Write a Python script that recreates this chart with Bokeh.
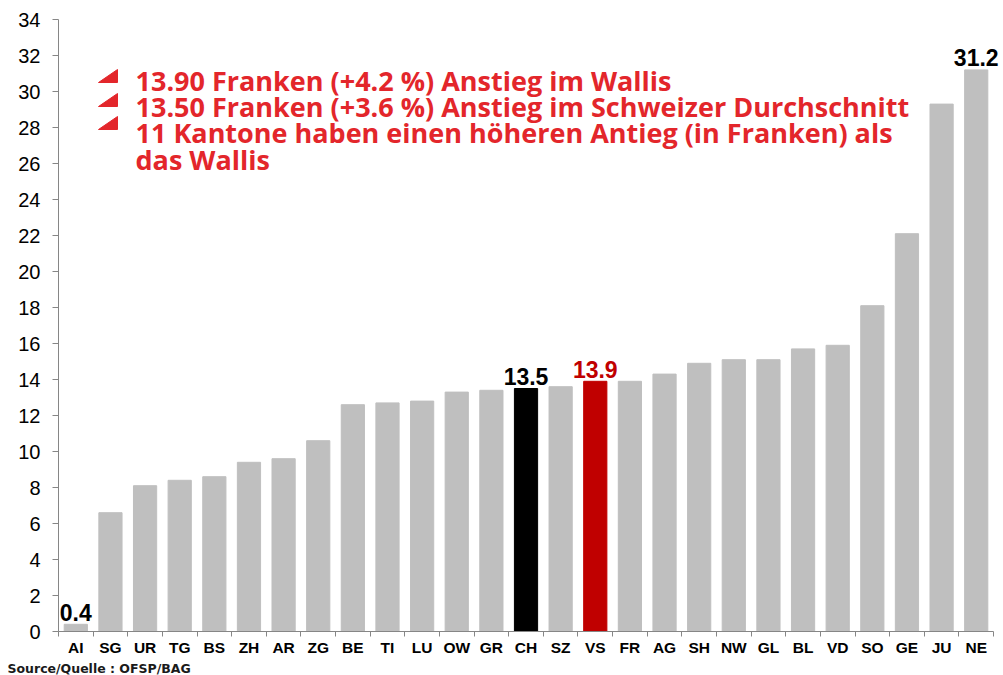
from bokeh.plotting import figure
from bokeh.models import ColumnDataSource, FixedTicker, Label, PolyAnnotation, Range1d, Title
from bokeh.core.properties import value
from bokeh.embed import file_html
from bokeh.resources import INLINE

cantons = ["AI", "SG", "UR", "TG", "BS", "ZH", "AR", "ZG", "BE", "TI", "LU", "OW", "GR",
           "CH", "SZ", "VS", "FR", "AG", "SH", "NW", "GL", "BL", "VD", "SO", "GE", "JU", "NE"]
increase = [0.4, 6.6, 8.1, 8.4, 8.6, 9.4, 9.6, 10.6, 12.6, 12.7, 12.8, 13.3, 13.4,
            13.5, 13.6, 13.9, 13.9, 14.3, 14.9, 15.1, 15.1, 15.7, 15.9, 18.1, 22.1, 29.3, 31.2]
highlight = {"CH": "#000000", "VS": "#c00000"}
labelled = {"AI": "#000000", "CH": "#000000", "VS": "#c00000", "NE": "#000000"}
y_ticks = list(range(0, 35, 2))
notes = ["13.90 Franken (+4.2 %) Anstieg im Wallis",
         "13.50 Franken (+3.6 %) Anstieg im Schweizer Durchschnitt",
         "11 Kantone haben einen höheren Antieg (in Franken) als",
         "das Wallis"]
source_text = "Source/Quelle : OFSP/BAG"

FONT = "Liberation Sans"
n = len(cantons)
centers = [i + 0.5 for i in range(n)]
colors = [highlight.get(c, "#bfbfbf") for c in cantons]

p = figure(width=1001, height=675, output_backend="svg", toolbar_location=None,
           x_range=Range1d(0, n + 0.23), y_range=Range1d(0, 34),
           min_border_left=58, min_border_right=0, min_border_top=19, min_border_bottom=44)
p.outline_line_color = None
p.xgrid.grid_line_color = None
p.ygrid.grid_line_color = None
p.background_fill_color = "white"
p.border_fill_color = "white"

src = ColumnDataSource(dict(x=centers, top=increase, color=colors, name=cantons))
p.vbar(x="x", top="top", bottom=0, width=0.67, color="color", source=src)

# value labels
lab_x = [centers[i] for i, c in enumerate(cantons) if c in labelled]
lab_y = [increase[i] for i, c in enumerate(cantons) if c in labelled]
lab_t = [f"{increase[i]:.1f}" for i, c in enumerate(cantons) if c in labelled]
lab_c = [labelled[c] for c in cantons if c in labelled]
lsrc = ColumnDataSource(dict(x=lab_x, y=lab_y, t=lab_t, c=lab_c))
p.text(x="x", y="y", text="t", text_color="c", source=lsrc, text_align="center",
       text_baseline="alphabetic", y_offset=-12, text_font=value(FONT),
       text_font_size="23px", text_font_style="bold")

# axes
ax_color = "#868686"
xa = p.xaxis[0]
xa.bounds = (0, n)
xa.ticker = FixedTicker(ticks=centers, minor_ticks=list(range(n + 1)))
xa.major_label_overrides = {c: name for c, name in zip(centers, cantons)}
xa.major_tick_line_color = None
xa.minor_tick_line_color = ax_color
xa.minor_tick_out = 5
xa.minor_tick_in = 0
xa.axis_line_color = ax_color
xa.major_label_text_font = FONT
xa.major_label_text_font_style = "bold"
xa.major_label_text_font_size = "15.5px"
xa.major_label_text_color = "#000000"
xa.major_label_standoff = 1

ya = p.yaxis[0]
ya.ticker = FixedTicker(ticks=y_ticks)
ya.minor_tick_line_color = None
ya.major_tick_line_color = ax_color
ya.major_tick_out = 6
ya.major_tick_in = 0
ya.axis_line_color = ax_color
ya.major_label_text_font = FONT
ya.major_label_text_font_size = "20px"
ya.major_label_text_color = "#000000"
ya.major_label_standoff = 12

# annotation text
red = "#e3262b"
baselines = [551, 525, 499, 472]
for t, b in zip(notes, baselines):
    p.add_layout(Label(x=77, y=b, x_units="screen", y_units="screen", text=t,
                       text_font="Open Sans", text_font_style="bold", text_font_size="27px",
                       text_color=red, text_baseline="alphabetic", text_align="left"))
for bottom in [549, 525, 502]:
    p.add_layout(PolyAnnotation(xs=[40, 59, 59], ys=[bottom, bottom, bottom + 13],
                                xs_units="screen", ys_units="screen",
                                fill_color=red, fill_alpha=1.0, line_color=red, line_alpha=1.0))

p.add_layout(Title(text=source_text, align="left", offset=-51, standoff=0,
                   text_font="DejaVu Sans", text_font_style="bold", text_font_size="12.5px",
                   text_color="#1a1a1a"), "below")

open("out.html", "w").write(file_html(p, INLINE))
